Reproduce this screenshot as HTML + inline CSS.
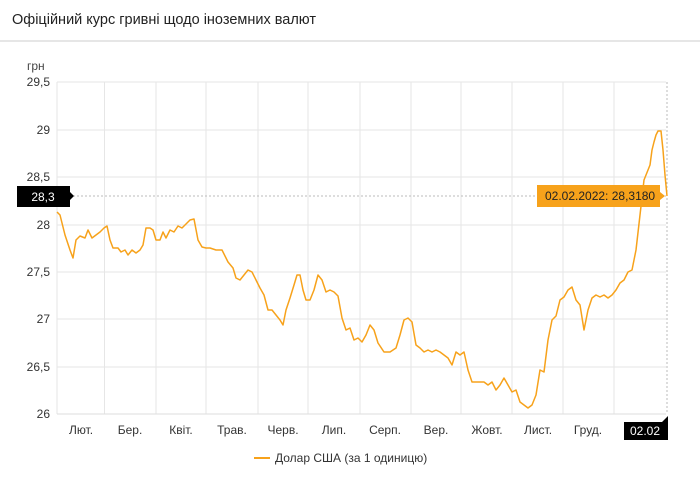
<!DOCTYPE html>
<html><head><meta charset="utf-8"><style>
body{margin:0;background:#fff;font-family:"Liberation Sans",sans-serif;}
</style></head><body>
<svg width="700" height="472" xmlns="http://www.w3.org/2000/svg" font-family="Liberation Sans, sans-serif">
<rect width="700" height="472" fill="#fff"/>
<text x="12" y="24" font-size="14.5" fill="#222">Офіційний курс гривні щодо іноземних валют</text>
<rect x="0" y="40" width="700" height="2" fill="#e6e6e6"/>
<text x="27" y="70" font-size="12" fill="#444">грн</text>
<g stroke="#e6e6e6" stroke-width="1">
<line x1="57" y1="82" x2="666" y2="82"/>
<line x1="57" y1="130" x2="666" y2="130"/>
<line x1="57" y1="177" x2="666" y2="177"/>
<line x1="57" y1="225" x2="666" y2="225"/>
<line x1="57" y1="272" x2="666" y2="272"/>
<line x1="57" y1="319" x2="666" y2="319"/>
<line x1="57" y1="367" x2="666" y2="367"/>
<line x1="57" y1="82" x2="57" y2="414"/>
<line x1="104.5" y1="82" x2="104.5" y2="414"/>
<line x1="156" y1="82" x2="156" y2="414"/>
<line x1="206" y1="82" x2="206" y2="414"/>
<line x1="258" y1="82" x2="258" y2="414"/>
<line x1="308" y1="82" x2="308" y2="414"/>
<line x1="360" y1="82" x2="360" y2="414"/>
<line x1="411" y1="82" x2="411" y2="414"/>
<line x1="461" y1="82" x2="461" y2="414"/>
<line x1="512" y1="82" x2="512" y2="414"/>
<line x1="563" y1="82" x2="563" y2="414"/>
<line x1="614" y1="82" x2="614" y2="414"/>
</g>
<line x1="57" y1="414" x2="666" y2="414" stroke="#ddd"/>
<line x1="667" y1="82" x2="667" y2="414" stroke="#bbb" stroke-dasharray="2,2"/>
<line x1="57" y1="196" x2="666" y2="196" stroke="#bbb" stroke-dasharray="2,2"/>
<g font-size="12" fill="#333" text-anchor="end">
<text x="50" y="86">29,5</text>
<text x="50" y="134">29</text>
<text x="50" y="181">28,5</text>
<text x="50" y="229">28</text>
<text x="50" y="276">27,5</text>
<text x="50" y="323">27</text>
<text x="50" y="371">26,5</text>
<text x="50" y="418">26</text>
</g>
<g font-size="12" fill="#333" text-anchor="middle">
<text x="81" y="434">Лют.</text>
<text x="130" y="434">Бер.</text>
<text x="181" y="434">Квіт.</text>
<text x="232" y="434">Трав.</text>
<text x="283" y="434">Черв.</text>
<text x="334" y="434">Лип.</text>
<text x="385" y="434">Серп.</text>
<text x="436" y="434">Вер.</text>
<text x="487" y="434">Жовт.</text>
<text x="538" y="434">Лист.</text>
<text x="588" y="434">Груд.</text>
</g>
<path d="M624,422 L662,422 L668,416 L668,440 L624,440 Z" fill="#000"/>
<text x="645" y="435" font-size="12" fill="#fff" text-anchor="middle">02.02</text>
<path d="M17,186 L70,186 L70,192 L74,196 L70,200 L70,207 L17,207 Z" fill="#000"/>
<text x="43" y="201" font-size="12" fill="#fff" text-anchor="middle">28,3</text>
<polyline fill="none" stroke="#f7a21b" stroke-width="1.5" stroke-linejoin="round" points="57,212 60,215 65,235 70,250 73,258 76,240 80,236 85,238 88,230 92,238 96,235 100,232 104,228 107,226 110,240 113,248 118,248 121,252 125,250 128,255 132,250 136,253 140,250 143,245 146,228 150,228 153,230 156,240 160,240 163,232 166,238 170,230 174,232 178,226 182,228 186,224 190,220 194,219 198,240 202,247 206,248 210,248 216,250 222,250 228,262 233,268 236,278 240,280 244,275 248,270 252,272 256,280 260,288 264,295 268,310 272,310 276,315 280,320 283,325 286,310 290,298 294,285 297,275 300,275 303,290 306,300 310,300 314,290 318,275 322,280 326,292 330,290 334,292 338,296 342,318 346,330 350,328 354,340 358,338 362,342 366,335 370,325 374,330 378,343 384,352 390,352 396,348 400,335 404,320 408,318 412,322 416,345 420,348 424,352 428,350 432,352 436,350 440,352 444,355 448,358 452,365 456,352 460,355 464,352 468,370 472,382 476,382 480,382 484,382 488,385 492,382 496,390 500,385 504,378 508,385 512,392 516,390 520,402 524,405 528,408 532,405 536,395 540,370 544,372 548,340 552,320 556,316 560,300 564,297 568,290 572,287 576,300 580,305 584,330 588,310 592,298 596,295 600,297 604,295 608,298 612,295 616,290 620,283 624,280 628,272 632,270 636,250 640,215 644,180 648,170 650,165 652,150 654,142 656,135 658,131 661,131 663,150 665,175 667,196"/>
<path d="M537,185 L660,185 L660,192 L665,196 L660,200 L660,207 L537,207 Z" fill="#f7a21b"/>
<text x="545" y="200" font-size="12" fill="#222">02.02.2022: 28,3180</text>
<line x1="254" y1="458" x2="270" y2="458" stroke="#f7a21b" stroke-width="2"/>
<text x="275" y="462" font-size="12" fill="#333">Долар США (за 1 одиницю)</text>
</svg>
</body></html>
